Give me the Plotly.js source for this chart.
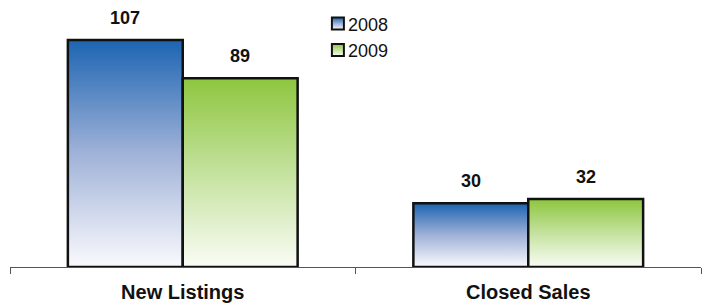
<!DOCTYPE html>
<html>
<head>
<meta charset="utf-8">
<script src="https://cdn.plot.ly/plotly-3.0.1.min.js"></script>
<style>
  html, body { margin: 0; padding: 0; background: #fff; }
  #chart { width: 707px; height: 307px; }
</style>
</head>
<body>
<div id="chart"></div>
<script>
const categories = ["New Listings", "Closed Sales"];
const seriesNames = ["2008", "2009"];
const values2008 = [107, 30];
const values2009 = [89, 32];

const topColors = ["rgb(28,100,178)", "rgb(141,198,63)"];
const midColors = ["rgb(160,178,216)", "rgb(196,226,158)"];
const bottomColors = ["rgb(250,250,253)", "rgb(250,252,246)"];

const bargap = 0.335;
const series = [values2008, values2009];

const traces = series.map((vals, k) => ({
  type: "bar",
  name: seriesNames[k],
  x: categories,
  y: vals,
  marker: { color: topColors[k], line: { color: "#111111", width: 2.5 } },
  hoverinfo: "none"
}));

const offset = (1 - bargap) / 4;
const annotations = [];
series.forEach((vals, k) => {
  vals.forEach((v, i) => {
    annotations.push({
      x: i + (k === 0 ? -offset : offset),
      y: v,
      xref: "x", yref: "y",
      text: String(v),
      showarrow: false,
      yanchor: "bottom",
      yshift: 10,
      font: { family: "Liberation Sans, Arial, sans-serif", size: 18, color: "#111", weight: "bold" }
    });
  });
});

const layout = {
  width: 707, height: 307,
  margin: { l: 10, r: 6, t: 10, b: 40 },
  paper_bgcolor: "#ffffff",
  plot_bgcolor: "#ffffff",
  barmode: "group",
  bargap: bargap,
  bargroupgap: 0,
  showlegend: true,
  legend: {
    x: 0.4456, y: 1.018, xanchor: "left", yanchor: "top",
    font: { family: "Liberation Sans, Arial, sans-serif", size: 18, color: "#111" },
    bgcolor: "rgba(0,0,0,0)"
  },
  xaxis: {
    type: "category",
    range: [-0.5, 1.5],
    showline: true, linecolor: "#555", linewidth: 1,
    ticks: "outside", ticklen: 6, tickcolor: "#555", tickwidth: 1,
    tickson: "boundaries",
    ticklabelstandoff: 7,
    showgrid: false, zeroline: false,
    tickfont: { family: "Liberation Sans, Arial, sans-serif", size: 20, color: "#111", weight: "bold" }
  },
  yaxis: {
    range: [0, 120.66],
    visible: false,
    showgrid: false, zeroline: false
  },
  annotations: annotations
};

Plotly.newPlot("chart", traces, layout, { displayModeBar: false, staticPlot: true }).then(gd => {
  const svg = gd.querySelector("svg.main-svg");
  const ns = "http://www.w3.org/2000/svg";
  let defs = svg.querySelector("defs");
  if (!defs) { defs = document.createElementNS(ns, "defs"); svg.insertBefore(defs, svg.firstChild); }
  series.forEach((_, k) => {
    const g = document.createElementNS(ns, "linearGradient");
    g.setAttribute("id", "barGrad" + k);
    g.setAttribute("x1", "0"); g.setAttribute("y1", "0");
    g.setAttribute("x2", "0"); g.setAttribute("y2", "1");
    [[0, topColors[k]], [0.5, midColors[k]], [1, bottomColors[k]]].forEach(([o, c]) => {
      const s = document.createElementNS(ns, "stop");
      s.setAttribute("offset", o);
      s.setAttribute("stop-color", c);
      g.appendChild(s);
    });
    defs.appendChild(g);
  });
  gd.querySelectorAll(".barlayer .trace.bars").forEach((tr, k) => {
    tr.querySelectorAll("path").forEach(p => { p.style.fill = "url(#barGrad" + k + ")"; });
  });
  gd.querySelectorAll(".legend .traces").forEach((tr, k) => {
    tr.querySelectorAll(".legendpoints path").forEach(p => {
      p.style.fill = "url(#barGrad" + k + ")";
      p.style.strokeWidth = "2px";
      p.style.stroke = "#111";
    });
    tr.querySelectorAll("text.legendtext").forEach(t => { t.setAttribute("x", "30"); });
  });
});
</script>
</body>
</html>
